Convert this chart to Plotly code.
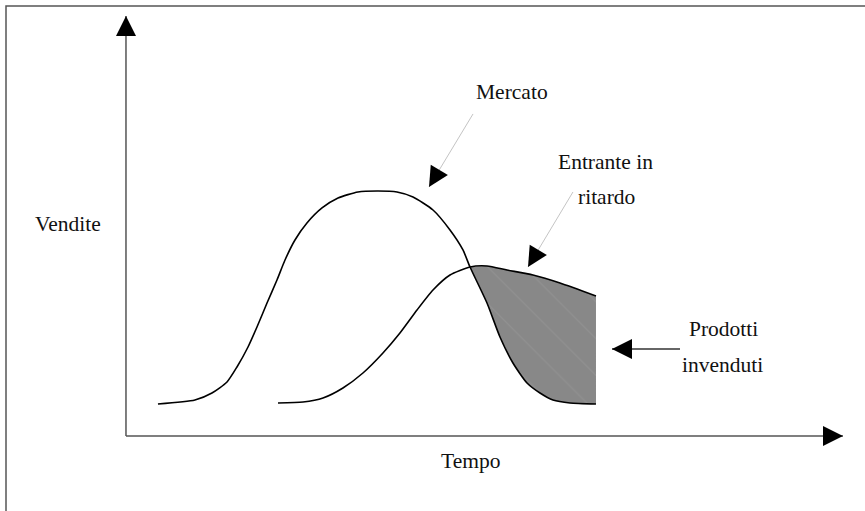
import plotly.graph_objects as go

# ---- data (time units 0..100 along axis, sales units 0..100 along axis) ----
market_t = [4.46, 9.62, 11.99, 14.09, 15.48, 17.02, 18.27, 19.67, 21.06, 22.18, 23.57, 25.24,
            27.34, 29.57, 32.36, 35.15, 37.80, 40.03, 42.82, 45.19, 47.00, 47.98, 50.35, 52.16,
            53.97, 55.93, 57.74, 59.55, 61.92, 65.55]
market_sales = [7.62, 8.57, 10.24, 12.86, 16.43, 21.19, 25.95, 31.67, 37.14, 41.90, 46.67, 50.71,
                54.29, 56.67, 58.10, 58.33, 58.10, 56.90, 53.81, 49.05, 44.29, 40.24, 31.67, 23.57,
                17.38, 12.62, 10.24, 8.57, 7.86, 7.62]
entrant_t = [21.20, 24.69, 27.48, 30.26, 33.05, 35.84, 38.21, 40.59, 42.82, 45.19, 47.98,
             50.35, 53.14, 56.76, 60.53, 65.55]
entrant_sales = [7.86, 8.10, 9.05, 11.43, 15.00, 19.76, 24.52, 30.00, 34.76, 38.33, 40.24,
                 40.48, 39.52, 38.33, 36.43, 33.33]
crossing_t = 47.98

axis_labels = {"y": "Vendite", "x": "Tempo"}
callouts = ["Mercato", "Entrante in", "ritardo", "Prodotti", "invenduti"]

# ---- geometry helpers (axis spans) ----
X_RANGE = [-17.57, 103.07]
Y_RANGE = [-17.86, 103.81]
PX_PER_X = 865 / (X_RANGE[1] - X_RANGE[0])
PX_PER_Y = 511 / (Y_RANGE[1] - Y_RANGE[0])

FONT = dict(family="Liberation Serif, Times New Roman, serif", size=21.5, color="#111111")
SMOOTH = 0.6

fig = go.Figure()

# shaded area: between market (below) and entrant (above) after the crossing
mk_t = [t for t in market_t if t >= crossing_t]
mk_s = [s for t, s in zip(market_t, market_sales) if t >= crossing_t]
en_t = [t for t in entrant_t if t >= crossing_t]
en_s = [s for t, s in zip(entrant_t, entrant_sales) if t >= crossing_t]
fig.add_trace(go.Scatter(x=mk_t, y=mk_s, mode="lines",
                         line=dict(width=0, color="#888888", shape="spline", smoothing=SMOOTH),
                         hoverinfo="skip"))
fig.add_trace(go.Scatter(x=en_t, y=en_s, mode="lines", fill="tonexty",
                         fillcolor="#888888",
                         line=dict(width=0, color="#888888", shape="spline", smoothing=SMOOTH),
                         fillpattern=dict(shape="\\", fgcolor="#9c9c9c", bgcolor="#888888",
                                          size=26, solidity=0.04),
                         hoverinfo="skip"))

fig.add_trace(go.Scatter(x=market_t, y=market_sales, mode="lines",
                         line=dict(color="black", width=1.6, shape="spline", smoothing=SMOOTH),
                         hoverinfo="skip"))
fig.add_trace(go.Scatter(x=entrant_t, y=entrant_sales, mode="lines",
                         line=dict(color="black", width=1.6, shape="spline", smoothing=SMOOTH),
                         hoverinfo="skip"))

shapes = []
annotations = []


def arrow(tail, tip, line_color, line_width, head_size=4):
    shapes.append(dict(type="line", xref="x", yref="y",
                       x0=tail[0], y0=tail[1], x1=tip[0], y1=tip[1],
                       line=dict(color=line_color, width=line_width)))
    dxp = (tail[0] - tip[0]) * PX_PER_X
    dyp = -(tail[1] - tip[1]) * PX_PER_Y
    L = (dxp ** 2 + dyp ** 2) ** 0.5
    annotations.append(dict(x=tip[0], y=tip[1], xref="x", yref="y", text="",
                            showarrow=True, arrowhead=2, arrowsize=head_size,
                            arrowwidth=1, arrowcolor="black",
                            ax=dxp / L * 12, ay=dyp / L * 12, standoff=0))


# axes
arrow((0, 0), (0, 100), "#555555", 1.5)
arrow((0, 0), (100, 0), "#555555", 1.5)
# callout arrows
arrow((48.40, 76.67), (42.26, 59.29), "#c4c4c4", 1)
arrow((62.34, 58.10), (56.07, 40.24), "#c4c4c4", 1)
arrow((77.27, 20.71), (67.78, 20.71), "#333333", 1.5)

# frame
shapes.append(dict(type="rect", xref="paper", yref="paper",
                   x0=6 / 865, x1=1.2, y0=-0.2, y1=1 - 6 / 511,
                   line=dict(color="#555555", width=1.5)))


def label(text, x, y):
    annotations.append(dict(x=x, y=y, xref="x", yref="y", text=text, showarrow=False,
                            font=FONT, xanchor="center", yanchor="middle"))


label(axis_labels["y"], -8.15, 50.5)
label(axis_labels["x"], 48.0, -6.0)
label(callouts[0], 53.84, 81.9)
label(callouts[1], 66.81, 65.3)
label(callouts[2], 66.95, 57.0)
label(callouts[3], 83.3, 25.4)
label(callouts[4], 83.15, 17.0)

fig.update_layout(
    width=865, height=511, autosize=False,
    margin=dict(l=0, r=0, t=0, b=0),
    paper_bgcolor="white", plot_bgcolor="white",
    showlegend=False,
    xaxis=dict(range=X_RANGE, visible=False, fixedrange=True),
    yaxis=dict(range=Y_RANGE, visible=False, fixedrange=True),
    shapes=shapes, annotations=annotations,
)

fig.write_html("out.html",
               post_script="document.body.style.margin='0px';document.body.style.overflow='hidden';",
               config={"displayModeBar": False})
